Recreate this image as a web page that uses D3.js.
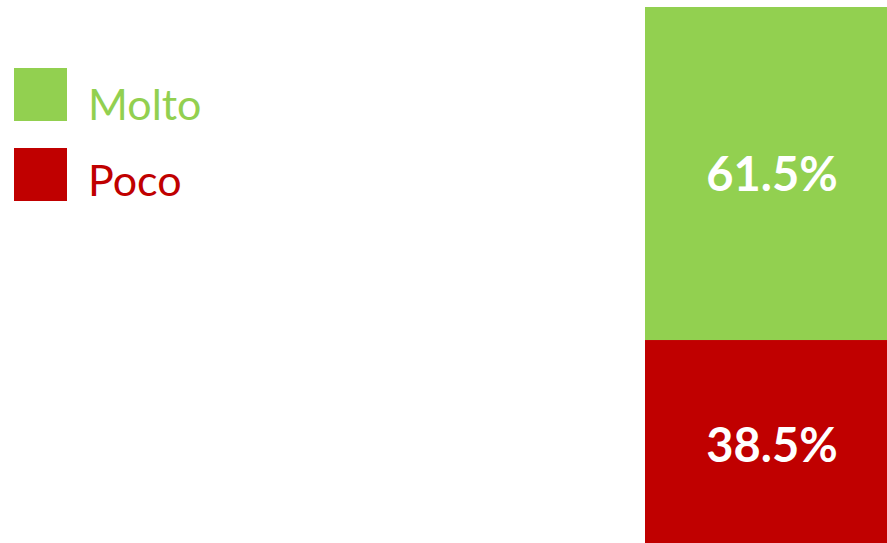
<!DOCTYPE html>
<html>
<head>
<meta charset="utf-8">
<script src="https://cdn.jsdelivr.net/npm/d3@7"></script>
<style>
	body { margin:0; background:#fff; }
	svg { display:block; }
</style>
</head>
<body>
<svg id="chart" width="887" height="543"></svg>
<script>
var categories = ["Totale"];
var seriesNames = ["Molto", "Poco"];
var molto = [61.5];
var poco = [38.5];
var colors = ["#92D050", "#C00000"];

var svg = d3.select("#chart");

//bar runs past the right and bottom edges of the picture
var x = d3.scaleBand().domain(categories).range([645, 899]).padding(0);
var y = d3.scaleLinear().domain([0, 100]).range([548.5, 7]);

var rows = categories.map(function(c, i){
	return {cat:c, Molto:molto[i], Poco:poco[i]};
});
var stack = d3.stack().keys(["Poco", "Molto"]);
var layers = stack(rows);

var g = svg.append("g");
layers.forEach(function(layer){
	var col = colors[seriesNames.indexOf(layer.key)];
	g.selectAll(null).data(layer).enter().append("rect")
		.attr("x", function(d){ return x(d.data.cat); })
		.attr("width", x.bandwidth())
		.attr("y", function(d){ return y(d[1]); })
		.attr("height", function(d){ return y(d[0]) - y(d[1]); })
		.attr("fill", col);
	g.selectAll(null).data(layer).enter().append("text")
		.attr("x", function(d){ return x(d.data.cat) + x.bandwidth()/2; })
		.attr("y", function(d){ return (y(d[0]) + y(d[1]))/2; })
		.attr("dy", "0.38em")
		.attr("text-anchor", "middle")
		.attr("font-family", "Lato, 'Open Sans', sans-serif")
		.attr("font-weight", "bold")
		.attr("font-size", 47)
		.attr("fill", "#fff")
		.text(function(d){ return d3.format(".1f")(d.data[layer.key]) + "%"; });
});

//legend
var legend = svg.append("g");
seriesNames.forEach(function(name, i){
	legend.append("rect")
		.attr("x", 14).attr("y", 68 + i*80)
		.attr("width", 53).attr("height", 53)
		.attr("fill", colors[i]);
	legend.append("text")
		.attr("x", 88).attr("y", 120 + i*76)
		.attr("font-family", "Lato, 'Open Sans', sans-serif")
		.attr("font-size", 43)
		.attr("fill", colors[i])
		.text(name);
});
</script>
</body>
</html>
